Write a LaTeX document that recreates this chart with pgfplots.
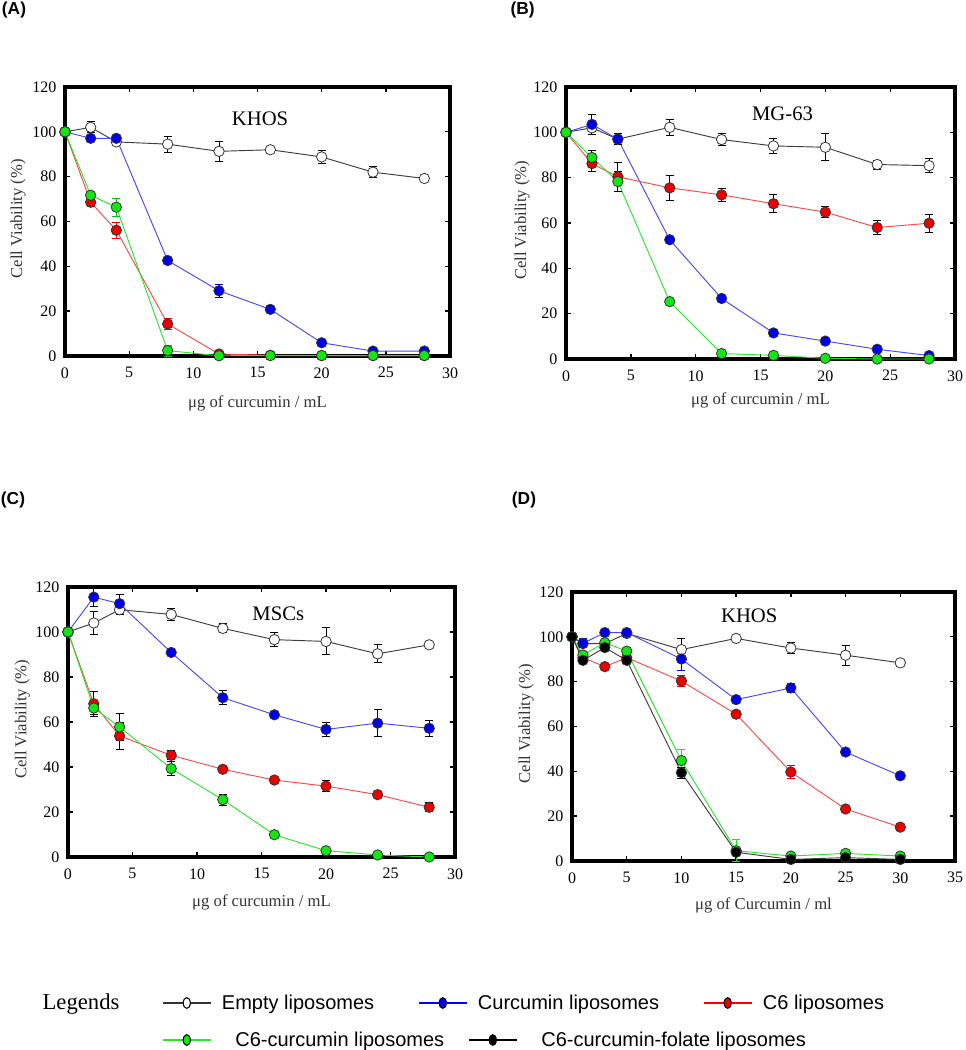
\documentclass[border=0pt]{standalone}
\usepackage{fontspec}
\setmainfont{Liberation Serif}
\newfontfamily\sans{Liberation Sans}
\usepackage{pgfplots}
\pgfplotsset{compat=1.18}
\definecolor{lblue}{RGB}{70,70,255}
\definecolor{mblue}{RGB}{0,0,235}
\definecolor{lred}{RGB}{255,70,70}
\definecolor{mred}{RGB}{235,0,0}
\definecolor{lgreen}{RGB}{40,230,40}
\definecolor{mgreen}{RGB}{20,230,20}
\definecolor{dgray}{RGB}{60,60,60}
\tikzset{ttl/.style={font=\rmfamily\fontsize{15.5}{18}\selectfont}}
\pgfplotsset{
  panel/.style={scale only axis, xmin=0, xmax=30, ymin=0, ymax=120,
    xtick={0,5,...,30}, ytick={0,20,...,120},
    tick align=inside, major tick length=4pt,
    axis line style={line width=2.4pt},
    tick style={line width=1pt, black},
    clip=false,
    /pgf/number format/assume math mode=true,
    ticklabel style={font=\rmfamily\fontsize{12}{14}\selectfont, text=black},
    xticklabel style={yshift=-5pt},
    yticklabel style={xshift=-3pt},
    label style={font=\rmfamily\fontsize{12.5}{15}\selectfont, text=black!80},
    ylabel={Cell Viability (\%)},
    xlabel={μg of curcumin / mL},
  },
  ser/.style n args={2}{color=#1, line width=0.7pt, mark=*, mark size=3.9pt,
    mark options={fill=#2, draw=black!80, line width=0.6pt}},
  eb/.style={error bars/.cd, y dir=both, y explicit,
    error bar style={line width=0.7pt, #1},
    error mark options={rotate=90, mark size=3pt, line width=0.7pt, #1}},
}
\begin{document}
\begin{tikzpicture}
\path[use as bounding box] (0,0) rectangle (723.75pt,787.5pt);
% ---------------- (A)
\begin{axis}[panel, at={(48.75pt,520.5pt)}, anchor=south west, width=288.75pt, height=201.75pt,
  ylabel style={at={(axis description cs:-0.122,0.51)}, anchor=center},
  xlabel style={at={(axis description cs:0.5,-0.178)}, anchor=center}]
\addplot[ser={dgray}{white}, eb={black}] table[row sep=\\, x index=0, y index=1, y error index=2] {
0 100 0\\ 2 102 2.5\\ 4 95.5 0\\ 8 94.5 3.5\\ 12 91.3 4.5\\ 16 92 0\\ 20 88.8 3\\ 24 82 2.5\\ 28 79.2 0\\};
\addplot[ser={lblue}{mblue}, eb={mblue!70!black}] table[row sep=\\, x index=0, y index=1, y error index=2] {
0 100 0\\ 2 97.1 0\\ 4 97.1 0\\ 8 42.6 1.5\\ 12 29.1 3\\ 16 20.8 1.5\\ 20 5.9 0\\ 24 2.2 0\\ 28 2.2 0\\};
\addplot[ser={lred}{mred}, eb={mred}] table[row sep=\\, x index=0, y index=1, y error index=2] {
0 100 0\\ 2 68.6 2\\ 4 56.1 3.5\\ 8 14.3 2.5\\ 12 0.9 0\\ 16 0.3 0\\ 20 0.2 0\\ 24 0.2 0\\ 28 0.2 0\\};
\addplot[ser={lgreen}{mgreen}, eb={mgreen!80!black}] table[row sep=\\, x index=0, y index=1, y error index=2] {
0 100 0\\ 2 71.7 0\\ 4 66.4 4\\ 8 2.4 2.5\\ 12 0.1 0\\ 16 0.2 0\\ 20 0.2 0\\ 24 0.2 0\\ 28 0.2 0\\};
\node[ttl] at (axis cs:15.2,106) {KHOS};
\end{axis}
% ---------------- (B)
\begin{axis}[panel, at={(424.5pt,518.25pt)}, anchor=south west, width=291.75pt, height=204pt,
  ylabel style={at={(axis description cs:-0.113,0.51)}, anchor=center},
  xlabel style={at={(axis description cs:0.5,-0.151)}, anchor=center}]
\addplot[ser={dgray}{white}, eb={black}] table[row sep=\\, x index=0, y index=1, y error index=2] {
0 100 0\\ 2 102 0\\ 4 97 0\\ 8 102.2 3.5\\ 12 96.8 2.5\\ 16 94 3.5\\ 20 93.4 6\\ 24 85.8 2\\ 28 85.3 3\\};
\addplot[ser={lblue}{mblue}, eb={black}] table[row sep=\\, x index=0, y index=1, y error index=2] {
0 100 0\\ 2 103.5 4.5\\ 4 97 2.5\\ 8 52.6 0\\ 12 26.7 0\\ 16 11.5 0\\ 20 7.9 0\\ 24 4.3 0\\ 28 1.5 0\\};
\addplot[ser={lred}{mred}, eb={black}] table[row sep=\\, x index=0, y index=1, y error index=2] {
0 100 0\\ 2 86.2 3.5\\ 4 80.4 6.5\\ 8 75.5 5.5\\ 12 72.4 3\\ 16 68.5 4\\ 20 64.8 2.5\\ 24 58 3\\ 28 59.9 4\\};
\addplot[ser={lgreen}{mgreen}, eb={black}] table[row sep=\\, x index=0, y index=1, y error index=2] {
0 100 0\\ 2 88.9 3\\ 4 78.3 4.5\\ 8 25.3 1.5\\ 12 2.4 0\\ 16 1.6 0\\ 20 0.3 0\\ 24 0 0\\ 28 0 0\\};
\node[ttl] at (axis cs:16.7,108.3) {MG-63};
\end{axis}
% ---------------- (C)
\begin{axis}[panel, at={(51pt,144.75pt)}, anchor=south west, width=290.25pt, height=202.5pt,
  ylabel style={at={(axis description cs:-0.118,0.51)}, anchor=center},
  xlabel style={at={(axis description cs:0.5,-0.167)}, anchor=center}]
\addplot[ser={dgray}{white}, eb={black}] table[row sep=\\, x index=0, y index=1, y error index=2] {
0 100 0\\ 2 104 5\\ 4 109.9 2\\ 8 107.8 2.5\\ 12 101.6 2\\ 16 96.6 3\\ 20 95.8 6\\ 24 90.3 4\\ 28 94.3 1.5\\};
\addplot[ser={lblue}{mblue}, eb={black}] table[row sep=\\, x index=0, y index=1, y error index=2] {
0 100 0\\ 2 115.5 4\\ 4 112.6 4\\ 8 90.9 0\\ 12 70.8 3\\ 16 63.2 0\\ 20 56.7 3\\ 24 59.5 6\\ 28 57.2 3.5\\};
\addplot[ser={lred}{mred}, eb={black}] table[row sep=\\, x index=0, y index=1, y error index=2] {
0 100 0\\ 2 68.1 5.5\\ 4 53.8 6\\ 8 45.2 2\\ 12 39 0\\ 16 34.2 0\\ 20 31.5 2.5\\ 24 27.7 0\\ 28 22.1 2\\};
\addplot[ser={lgreen}{mgreen}, eb={black}] table[row sep=\\, x index=0, y index=1, y error index=2] {
0 100 0\\ 2 66.2 3\\ 4 57.8 6\\ 8 39.3 3\\ 12 25.5 2.5\\ 16 9.9 0\\ 20 2.8 0\\ 24 0.9 0\\ 28 0 0\\};
\node[ttl] at (axis cs:16.3,108.1) {MSCs};
\end{axis}
% ---------------- (D)
\begin{axis}[panel, at={(429pt,141.75pt)}, anchor=south west, width=287.25pt, height=201.75pt,
  xmax=35, xtick={0,5,...,35}, xlabel={μg of Curcumin / ml},
  ylabel style={at={(axis description cs:-0.120,0.51)}, anchor=center},
  xlabel style={at={(axis description cs:0.5,-0.164)}, anchor=center}]
\addplot[ser={dgray}{white}, eb={black}] table[row sep=\\, x index=0, y index=1, y error index=2] {
0 100 0\\ 1 97 0\\ 3 97 0\\ 5 101.5 0\\ 10 94.3 5\\ 15 99.3 0\\ 20 95 2.5\\ 25 91.8 4.5\\ 30 88.4 0\\};
\addplot[ser={lblue}{mblue}, eb={mblue}] table[row sep=\\, x index=0, y index=1, y error index=2] {
0 100 0\\ 1 97.1 2\\ 3 101.9 0\\ 5 101.9 0\\ 10 90.1 5\\ 15 72 0\\ 20 77.2 2\\ 25 48.6 0\\ 30 38 0\\};
\addplot[ser={lred}{mred}, eb={mred}] table[row sep=\\, x index=0, y index=1, y error index=2] {
0 100 0\\ 1 90.7 0\\ 3 86.7 0\\ 5 90.7 0\\ 10 80.3 2.5\\ 15 65.5 0\\ 20 39.7 3\\ 25 23.2 0\\ 30 15.1 0\\};
\addplot[ser={lgreen}{mgreen}, eb={mgreen}] table[row sep=\\, x index=0, y index=1, y error index=2] {
0 100 0\\ 1 91.9 0\\ 3 97.4 0\\ 5 93.6 0\\ 10 44.8 5\\ 15 4.6 5\\ 20 2.2 0\\ 25 3.4 0\\ 30 2.2 0\\};
\addplot[ser={dgray}{black}, eb={black}] table[row sep=\\, x index=0, y index=1, y error index=2] {
0 100 0\\ 1 89.5 0\\ 3 95.2 0\\ 5 89.5 0\\ 10 39.4 2.5\\ 15 3.9 0\\ 20 0.7 0\\ 25 1.5 0\\ 30 0.7 0\\};
\node[ttl] at (axis cs:16.2,109.6) {KHOS};
\end{axis}
% ---------------- legend row 1
\begin{axis}[at={(0pt,0pt)}, anchor=south west, scale only axis, width=723.75pt, height=787.5pt,
  hide axis, xmin=0, xmax=1, ymin=0, ymax=1, legend columns=3,
  legend cell align=left,
  legend image code/.code={\draw[mark repeat=2,mark phase=2,#1] plot coordinates {(0pt,0pt) (18pt,0pt) (36pt,0pt)};},
  legend style={at={(162/965,47/1050)}, anchor=west, draw=none, fill=none, inner sep=0pt,
    font=\sans\fontsize{15}{18}\selectfont,
    /tikz/every odd column/.append style={column sep=6pt},
    /tikz/every even column/.append style={column sep=31pt}}]
\addlegendimage{color=black!80, line width=0.8pt, mark=*, mark size=4pt, mark options={fill=white, draw=black, xscale=0.7}}
\addlegendentry{Empty liposomes}
\addlegendimage{color=blue, line width=0.8pt, mark=*, mark size=4pt, mark options={fill=mblue, draw=black, xscale=0.7}}
\addlegendentry{Curcumin liposomes}
\addlegendimage{color=red, line width=0.8pt, mark=*, mark size=4pt, mark options={fill=mred, draw=black, xscale=0.7}}
\addlegendentry{C6 liposomes}
\end{axis}
% ---------------- legend row 2
\begin{axis}[at={(0pt,0pt)}, anchor=south west, scale only axis, width=723.75pt, height=787.5pt,
  hide axis, xmin=0, xmax=1, ymin=0, ymax=1, legend columns=2,
  legend cell align=left,
  legend image code/.code={\draw[mark repeat=2,mark phase=2,#1] plot coordinates {(0pt,0pt) (18pt,0pt) (36pt,0pt)};},
  legend style={at={(162/965,10/1050)}, anchor=west, draw=none, fill=none, inner sep=0pt,
    font=\sans\fontsize{15}{18}\selectfont,
    /tikz/every odd column/.append style={column sep=16pt},
    /tikz/every even column/.append style={column sep=16pt}}]
\addlegendimage{color=lgreen, line width=0.8pt, mark=*, mark size=4pt, mark options={fill=mgreen, draw=black, xscale=0.7}}
\addlegendentry{C6-curcumin liposomes}
\addlegendimage{color=black, line width=0.8pt, mark=*, mark size=4pt, mark options={fill=black, draw=black, xscale=0.7}}
\addlegendentry{C6-curcumin-folate liposomes}
\end{axis}
% ---------------- texts
\node[font=\sans\bfseries\fontsize{13}{15}\selectfont] at (10.5pt,780pt) {(A)};
\node[font=\sans\bfseries\fontsize{13}{15}\selectfont] at (392pt,780pt) {(B)};
\node[font=\sans\bfseries\fontsize{13}{15}\selectfont] at (9.75pt,412.5pt) {(C)};
\node[font=\sans\bfseries\fontsize{13}{15}\selectfont] at (393pt,412.5pt) {(D)};
\node[font=\rmfamily\fontsize{17}{20}\selectfont] at (60.75pt,34.5pt) {Legends};
\end{tikzpicture}
\end{document}
